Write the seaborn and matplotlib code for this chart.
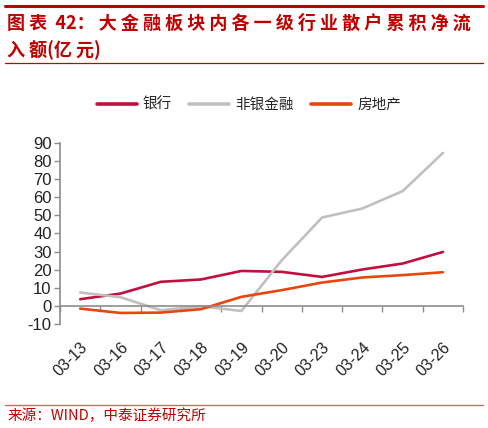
import numpy as np
import pandas as pd
import matplotlib
matplotlib.use("Agg")
import matplotlib.pyplot as plt
import seaborn as sns
from matplotlib.lines import Line2D

dates = ["03-13", "03-16", "03-17", "03-18", "03-19", "03-20", "03-23", "03-24", "03-25", "03-26"]
bank = [3.7, 6.8, 13.3, 14.6, 19.3, 18.8, 16.0, 20.1, 23.4, 29.8]
nonbank = [7.4, 4.8, -2.4, -0.2, -2.8, 25.2, 48.8, 53.8, 63.4, 84.5]
realestate = [-1.5, -3.9, -3.7, -1.8, 5.0, 8.7, 12.9, 15.7, 17.0, 18.6]
series_names = ["银行", "非银金融", "房地产"]
colors = ["#C0103E", "#C0C0C0", "#E8460E"]
yticks = list(range(-10, 91, 10))

sns.set_theme(style="white")
plt.rcParams['font.family'] = ['Noto Sans CJK SC', 'DejaVu Sans']

idx = np.arange(len(dates))
df = pd.DataFrame({
    "x": np.concatenate([idx, idx, idx]),
    "value": bank + nonbank + realestate,
    "series": [series_names[0]] * len(dates) + [series_names[1]] * len(dates) + [series_names[2]] * len(dates),
})

fig = plt.figure(figsize=(4.88, 4.28), dpi=100)
ax = fig.add_axes([0.123, 0.243, 0.826, 0.423])

sns.lineplot(data=df, x="x", y="value", hue="series", palette=dict(zip(series_names, colors)),
             hue_order=series_names, linewidth=1.9, ax=ax, legend=False, sort=False)

ax.set_xlim(-0.5, len(dates) - 0.5)
ax.set_ylim(-10, 90)
ax.set_xlabel("")
ax.set_ylabel("")

for s in ["top", "right"]:
    ax.spines[s].set_visible(False)
ax.spines["left"].set_color("#8C8C8C")
ax.spines["left"].set_linewidth(1.2)
ax.spines["bottom"].set_position(("data", 0))
ax.spines["bottom"].set_color("#8C8C8C")
ax.spines["bottom"].set_linewidth(1.2)

ax.set_yticks(yticks)
ax.set_yticklabels([str(v) for v in yticks], family="Liberation Sans", fontsize=12, color="#222222")
ax.tick_params(axis="y", direction="out", length=4, width=1, color="#8C8C8C", left=True, pad=2)

ax.set_xticks(np.arange(len(dates) + 1) - 0.5)
ax.set_xticklabels([""] * (len(dates) + 1))
ax.set_xticks(idx, minor=True)
ax.set_xticklabels(dates, minor=True, rotation=45, ha="right", va="top",
                   family="Liberation Sans", fontsize=11.5, color="#222222", rotation_mode="anchor")
ax.tick_params(axis="x", which="major", direction="out", length=4, width=1, color="#8C8C8C", bottom=True)
ax.tick_params(axis="x", which="minor", length=0, pad=24)
ax.grid(False)

handles = [Line2D([0], [0], color=c, lw=2.6) for c in colors]
fig.legend(handles, series_names, loc="center", bbox_to_anchor=(0.51, 0.755), ncol=3, frameon=False,
           fontsize=10.5, handlelength=2.75, columnspacing=1.2, handletextpad=0.4)

red = "#C00000"
fig.add_artist(Line2D([0.01, 0.99], [1 - 6 / 428, 1 - 6 / 428], color=red, lw=2.2))
fig.add_artist(Line2D([0.01, 0.99], [1 - 63 / 428, 1 - 63 / 428], color=red, lw=0.9))
fig.add_artist(Line2D([0.01, 0.99], [1 - 405 / 428, 1 - 405 / 428], color="#E06060", lw=1.0))

title1 = "图 表  42： 大 金 融 板 块 内 各 一 级 行 业 散 户 累 积 净 流"
title2 = "入 额(亿 元)"
fig.text(0.015, 1 - 23 / 428, title1, color=red, fontsize=13,
         fontweight="bold", va="center", ha="left")
fig.text(0.015, 1 - 50 / 428, title2, color=red, fontsize=13,
         fontweight="bold", va="center", ha="left")
fig.text(0.015, 1 - 416 / 428, "来源：WIND，中泰证券研究所", color=red, fontsize=10.5,
         va="center", ha="left")

fig.savefig("out.png", dpi=100)
